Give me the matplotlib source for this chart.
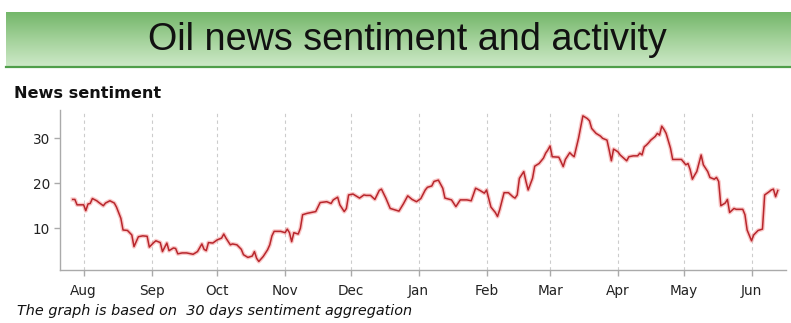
import numpy as np
import pandas as pd
import matplotlib
matplotlib.use("Agg")
import matplotlib.pyplot as plt
from matplotlib.colors import LinearSegmentedColormap

# ---------------- data ----------------
dates = [
    "2011-07-27", "2011-07-28", "2011-07-29", "2011-08-01", "2011-08-02", "2011-08-03", "2011-08-04",
    "2011-08-05", "2011-08-07", "2011-08-08", "2011-08-10", "2011-08-11", "2011-08-13", "2011-08-15",
    "2011-08-16", "2011-08-18", "2011-08-19", "2011-08-21", "2011-08-23", "2011-08-24", "2011-08-25",
    "2011-08-26", "2011-08-28", "2011-08-30", "2011-08-31",
    "2011-09-02", "2011-09-03", "2011-09-05", "2011-09-06", "2011-09-08", "2011-09-09", "2011-09-11",
    "2011-09-12", "2011-09-13", "2011-09-15", "2011-09-17", "2011-09-20", "2011-09-22", "2011-09-24",
    "2011-09-25", "2011-09-26", "2011-09-27", "2011-09-29",
    "2011-10-01", "2011-10-03", "2011-10-04", "2011-10-05", "2011-10-07", "2011-10-08", "2011-10-10",
    "2011-10-12", "2011-10-13", "2011-10-15", "2011-10-17", "2011-10-18", "2011-10-19", "2011-10-20",
    "2011-10-22", "2011-10-24", "2011-10-25", "2011-10-26", "2011-10-27", "2011-10-30",
    "2011-11-01", "2011-11-02", "2011-11-03", "2011-11-04", "2011-11-05", "2011-11-07", "2011-11-08",
    "2011-11-09", "2011-11-11", "2011-11-15", "2011-11-17", "2011-11-20", "2011-11-22", "2011-11-23",
    "2011-11-25", "2011-11-26", "2011-11-28", "2011-11-29", "2011-11-30",
    "2011-12-02", "2011-12-04", "2011-12-05", "2011-12-07", "2011-12-08", "2011-12-10", "2011-12-12",
    "2011-12-14", "2011-12-15", "2011-12-17", "2011-12-19", "2011-12-23", "2011-12-25", "2011-12-27",
    "2011-12-29", "2011-12-31",
    "2012-01-02", "2012-01-04", "2012-01-05", "2012-01-07", "2012-01-08", "2012-01-10", "2012-01-12",
    "2012-01-13", "2012-01-16", "2012-01-18", "2012-01-20", "2012-01-23", "2012-01-25", "2012-01-27",
    "2012-01-29", "2012-01-31",
    "2012-02-01", "2012-02-03", "2012-02-05", "2012-02-06", "2012-02-07", "2012-02-09", "2012-02-11",
    "2012-02-13", "2012-02-14", "2012-02-15", "2012-02-16", "2012-02-18", "2012-02-19", "2012-02-20",
    "2012-02-22", "2012-02-23", "2012-02-25", "2012-02-27", "2012-02-28", "2012-02-29",
    "2012-03-01", "2012-03-02", "2012-03-05", "2012-03-06", "2012-03-07", "2012-03-08", "2012-03-10",
    "2012-03-11", "2012-03-12", "2012-03-14", "2012-03-16", "2012-03-18", "2012-03-19", "2012-03-20",
    "2012-03-22", "2012-03-24", "2012-03-25", "2012-03-27", "2012-03-28", "2012-03-29", "2012-03-30",
    "2012-04-01", "2012-04-02", "2012-04-05", "2012-04-06", "2012-04-08", "2012-04-10", "2012-04-11",
    "2012-04-12", "2012-04-13", "2012-04-14", "2012-04-15", "2012-04-16", "2012-04-18", "2012-04-19",
    "2012-04-20", "2012-04-21", "2012-04-22", "2012-04-23", "2012-04-25", "2012-04-26", "2012-04-30",
    "2012-05-02", "2012-05-03", "2012-05-04", "2012-05-05", "2012-05-06", "2012-05-07", "2012-05-09",
    "2012-05-10", "2012-05-12", "2012-05-13", "2012-05-15", "2012-05-16", "2012-05-17", "2012-05-18",
    "2012-05-20", "2012-05-21", "2012-05-22", "2012-05-24", "2012-05-25", "2012-05-28", "2012-05-29",
    "2012-05-30",
    "2012-06-01", "2012-06-02", "2012-06-04", "2012-06-06", "2012-06-07", "2012-06-09", "2012-06-10",
    "2012-06-11", "2012-06-12", "2012-06-13",
]

sentiment = [
    16.4, 16.4, 15.2, 15.2, 13.9, 15.4, 15.5, 16.6, 16.1, 15.7, 15.0, 15.6, 16.1, 15.6,
    14.7, 12.2, 9.6, 9.5, 8.5, 5.9, 7.0, 8.1, 8.3, 8.2, 5.8,
    6.8, 7.2, 6.8, 4.8, 6.7, 5.0, 5.6, 5.5, 4.3, 4.5, 4.5, 4.2, 4.8, 6.5, 5.3, 5.0, 6.8, 6.7,
    7.4, 7.8, 8.7, 7.8, 6.3, 6.5, 6.3, 5.3, 4.1, 3.5, 3.8, 4.8, 3.3, 2.6, 3.7, 5.2, 6.3, 8.3, 9.3, 9.3,
    9.0, 9.8, 9.0, 7.0, 9.0, 8.7, 10.0, 13.0, 13.3, 13.7, 15.7, 15.9, 15.5, 16.3, 16.9, 15.2, 13.7, 14.4, 17.4,
    17.6, 17.0, 16.7, 17.4, 17.3, 17.3, 16.4, 18.4, 18.7, 16.7, 14.4, 13.8, 15.4, 17.2, 16.4, 15.9,
    16.6, 18.5, 19.1, 19.4, 20.4, 20.7, 18.9, 16.7, 16.3, 14.8, 16.3, 16.3, 16.1, 18.9, 18.4, 17.8,
    18.5, 14.7, 13.5, 12.6, 14.1, 17.9, 17.9, 17.0, 16.7, 17.4, 21.1, 22.6, 20.4, 18.5, 21.1, 23.8,
    24.4, 25.6, 26.7, 27.4,
    28.3, 25.9, 25.8, 24.8, 23.7, 25.3, 26.8, 26.3, 25.9, 30.0, 35.0, 34.4, 33.9, 32.2, 31.1, 30.5,
    30.0, 29.6, 27.4, 25.0, 27.6,
    27.0, 26.3, 25.0, 25.9, 26.1, 26.1, 26.7, 26.3, 28.1, 28.5, 29.0, 29.6, 30.4, 31.1, 30.7, 32.7,
    32.0, 31.1, 27.8, 25.3, 25.3,
    24.1, 24.4, 23.0, 20.9, 21.8, 22.6, 26.3, 24.1, 22.6, 21.3, 20.9, 21.3, 20.4, 15.0, 15.6, 16.4,
    13.5, 14.4, 14.2, 14.2, 13.0, 9.6,
    7.2, 8.5, 9.5, 9.8, 17.4, 18.1, 18.5, 18.7, 17.0, 18.4,
]

month_ticks = ["2011-08-01", "2011-09-01", "2011-10-01", "2011-11-01", "2011-12-01", "2012-01-01",
               "2012-02-01", "2012-03-01", "2012-04-01", "2012-05-01", "2012-06-01"]
month_labels = ["Aug", "Sep", "Oct", "Nov", "Dec", "Jan", "Feb", "Mar", "Apr", "May", "Jun"]
y_ticks = [10, 20, 30]

title = "Oil news sentiment and activity"
subtitle = "News sentiment"
footnote = "The graph is based on  30 days sentiment aggregation"

# ---------------- figure ----------------
W, H = 791, 323
fig = plt.figure(figsize=(W / 100, H / 100), dpi=100)
fig.patch.set_facecolor("white")

def px_axes(x0, y0, x1, y1):
    return fig.add_axes([x0 / W, 1 - y1 / H, (x1 - x0) / W, (y1 - y0) / H])

# banner
bax = px_axes(6, 12, 791, 68)
cmap = LinearSegmentedColormap.from_list("g", ["#74b76a", "#a4d29b", "#cfeaca"])
grad = np.linspace(0, 1, 100).reshape(-1, 1)
bax.imshow(grad, aspect="auto", cmap=cmap, extent=[0, 1, 0, 1], origin="upper")
bax.plot([0, 1], [0.015, 0.015], color="#4f9e4a", lw=1.6, clip_on=False)
bax.set_xlim(0, 1)
bax.set_ylim(0, 1)
bax.axis("off")
fig.text(407 / W, 1 - 40 / H, title, ha="center", va="center", fontsize=27.2,
         family=["Liberation Sans", "DejaVu Sans"], color="#111111")

fig.text(14 / W, 1 - 93 / H, subtitle, ha="left", va="center", fontsize=11.6,
         fontweight="bold", family="DejaVu Sans", color="#111111")
fig.text(17 / W, 1 - 311 / H, footnote, ha="left", va="center", fontsize=10.4,
         fontstyle="italic", family="DejaVu Sans", color="#111111")

# main axes
ax = px_axes(60, 110, 786, 270)
x = pd.to_datetime(dates)
ax.plot(x, sentiment, color="#f28585", lw=3.0, alpha=0.45, solid_joinstyle="round")
ax.plot(x, sentiment, color="#b8262c", lw=1.1, solid_joinstyle="round")

ax.set_xlim(pd.Timestamp("2011-07-21 05:00"), pd.Timestamp("2012-06-16 18:00"))
ax.set_ylim(0.7, 36.3)
ax.set_xticks(pd.to_datetime(month_ticks))
ax.set_xticklabels(month_labels)
ax.set_yticks(y_ticks)
ax.grid(axis="x", color="#cccccc", linestyle=(0, (3, 3)), lw=0.8)
for s in ["top", "right"]:
    ax.spines[s].set_visible(False)
for s in ["left", "bottom"]:
    ax.spines[s].set_color("#aaaaaa")
    ax.spines[s].set_linewidth(1.0)
ax.tick_params(axis="both", colors="#aaaaaa", labelcolor="#222222", labelsize=9.8, length=4, width=1)
ax.tick_params(axis="x", pad=6)
ax.tick_params(axis="y", pad=3)

fig.savefig("out.png", dpi=100, facecolor="white")
